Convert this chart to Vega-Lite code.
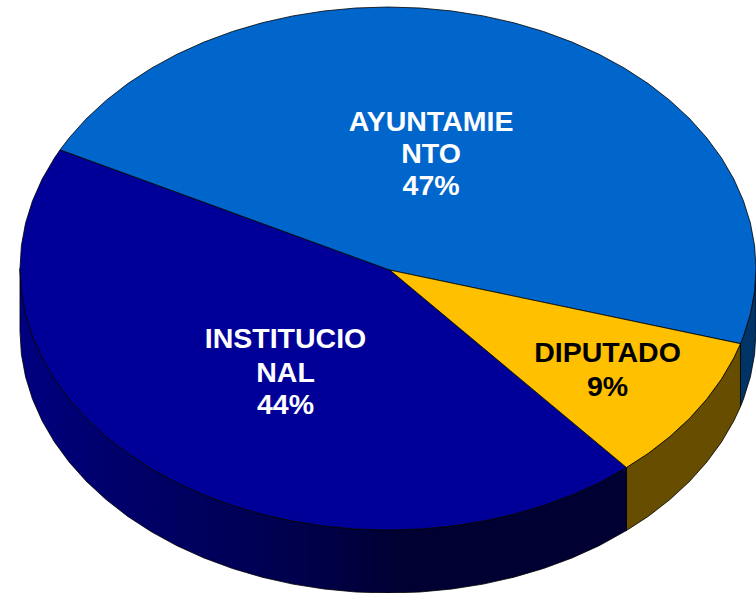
{"$schema":"https://vega.github.io/schema/vega-lite/v6.json","width":756,"height":593,"padding":0,"autosize":"none","background":"white","view":{"stroke":null},
"datasets":{
"wall":[
{"slice":"AYUNTAMIENTO","x":100,"y":0,"y2":-24.09},{"slice":"AYUNTAMIENTO","x":99.62,"y":-8.72,"y2":-32.81},{"slice":"AYUNTAMIENTO","x":98.48,"y":-17.36,"y2":-41.45},{"slice":"AYUNTAMIENTO","x":96.59,"y":-25.88,"y2":-49.97},{"slice":"AYUNTAMIENTO","x":95.78,"y":-28.74,"y2":-52.83},
{"slice":"DIPUTADO","x":95.78,"y":-28.74,"y2":-52.83},{"slice":"DIPUTADO","x":93.97,"y":-34.2,"y2":-58.29},{"slice":"DIPUTADO","x":90.63,"y":-42.26,"y2":-66.35},{"slice":"DIPUTADO","x":86.6,"y":-50,"y2":-74.09},{"slice":"DIPUTADO","x":81.92,"y":-57.36,"y2":-81.45},{"slice":"DIPUTADO","x":76.6,"y":-64.28,"y2":-88.37},{"slice":"DIPUTADO","x":70.71,"y":-70.71,"y2":-94.8},{"slice":"DIPUTADO","x":64.8,"y":-76.1,"y2":-100.19},
{"slice":"INSTITUCIONAL","x":64.8,"y":-76.1,"y2":-100.19},{"slice":"INSTITUCIONAL","x":57.36,"y":-81.92,"y2":-106.01},{"slice":"INSTITUCIONAL","x":50,"y":-86.6,"y2":-110.69},{"slice":"INSTITUCIONAL","x":42.26,"y":-90.63,"y2":-114.72},{"slice":"INSTITUCIONAL","x":34.2,"y":-93.97,"y2":-118.06},{"slice":"INSTITUCIONAL","x":25.88,"y":-96.59,"y2":-120.68},{"slice":"INSTITUCIONAL","x":17.36,"y":-98.48,"y2":-122.57},{"slice":"INSTITUCIONAL","x":8.72,"y":-99.62,"y2":-123.71},{"slice":"INSTITUCIONAL","x":0,"y":-100,"y2":-124.09},{"slice":"INSTITUCIONAL","x":-8.72,"y":-99.62,"y2":-123.71},{"slice":"INSTITUCIONAL","x":-17.36,"y":-98.48,"y2":-122.57},{"slice":"INSTITUCIONAL","x":-25.88,"y":-96.59,"y2":-120.68},{"slice":"INSTITUCIONAL","x":-34.2,"y":-93.97,"y2":-118.06},{"slice":"INSTITUCIONAL","x":-42.26,"y":-90.63,"y2":-114.72},{"slice":"INSTITUCIONAL","x":-50,"y":-86.6,"y2":-110.69},{"slice":"INSTITUCIONAL","x":-57.36,"y":-81.92,"y2":-106.01},{"slice":"INSTITUCIONAL","x":-64.28,"y":-76.6,"y2":-100.69},{"slice":"INSTITUCIONAL","x":-70.71,"y":-70.71,"y2":-94.8},{"slice":"INSTITUCIONAL","x":-76.6,"y":-64.28,"y2":-88.37},{"slice":"INSTITUCIONAL","x":-81.92,"y":-57.36,"y2":-81.45},{"slice":"INSTITUCIONAL","x":-86.6,"y":-50,"y2":-74.09},{"slice":"INSTITUCIONAL","x":-90.63,"y":-42.26,"y2":-66.35},{"slice":"INSTITUCIONAL","x":-93.97,"y":-34.2,"y2":-58.29},{"slice":"INSTITUCIONAL","x":-96.59,"y":-25.88,"y2":-49.97},{"slice":"INSTITUCIONAL","x":-98.48,"y":-17.36,"y2":-41.45},{"slice":"INSTITUCIONAL","x":-99.62,"y":-8.72,"y2":-32.81},{"slice":"INSTITUCIONAL","x":-100,"y":0,"y2":-24.09}
],
"top":[
{"slice":"INSTITUCIONAL","i":0,"x":0.5,"y":-0.6},{"slice":"INSTITUCIONAL","i":1,"x":64.8,"y":-76.1},{"slice":"INSTITUCIONAL","i":2,"x":57.36,"y":-81.92},{"slice":"INSTITUCIONAL","i":3,"x":50,"y":-86.6},{"slice":"INSTITUCIONAL","i":4,"x":42.26,"y":-90.63},{"slice":"INSTITUCIONAL","i":5,"x":34.2,"y":-93.97},{"slice":"INSTITUCIONAL","i":6,"x":25.88,"y":-96.59},{"slice":"INSTITUCIONAL","i":7,"x":17.36,"y":-98.48},{"slice":"INSTITUCIONAL","i":8,"x":8.72,"y":-99.62},{"slice":"INSTITUCIONAL","i":9,"x":0,"y":-100},{"slice":"INSTITUCIONAL","i":10,"x":-8.72,"y":-99.62},{"slice":"INSTITUCIONAL","i":11,"x":-17.36,"y":-98.48},{"slice":"INSTITUCIONAL","i":12,"x":-25.88,"y":-96.59},{"slice":"INSTITUCIONAL","i":13,"x":-34.2,"y":-93.97},{"slice":"INSTITUCIONAL","i":14,"x":-42.26,"y":-90.63},{"slice":"INSTITUCIONAL","i":15,"x":-50,"y":-86.6},{"slice":"INSTITUCIONAL","i":16,"x":-57.36,"y":-81.92},{"slice":"INSTITUCIONAL","i":17,"x":-64.28,"y":-76.6},{"slice":"INSTITUCIONAL","i":18,"x":-70.71,"y":-70.71},{"slice":"INSTITUCIONAL","i":19,"x":-76.6,"y":-64.28},{"slice":"INSTITUCIONAL","i":20,"x":-81.92,"y":-57.36},{"slice":"INSTITUCIONAL","i":21,"x":-86.6,"y":-50},{"slice":"INSTITUCIONAL","i":22,"x":-90.63,"y":-42.26},{"slice":"INSTITUCIONAL","i":23,"x":-93.97,"y":-34.2},{"slice":"INSTITUCIONAL","i":24,"x":-96.59,"y":-25.88},{"slice":"INSTITUCIONAL","i":25,"x":-98.48,"y":-17.36},{"slice":"INSTITUCIONAL","i":26,"x":-99.62,"y":-8.72},{"slice":"INSTITUCIONAL","i":27,"x":-100,"y":0},{"slice":"INSTITUCIONAL","i":28,"x":-99.62,"y":8.72},{"slice":"INSTITUCIONAL","i":29,"x":-98.48,"y":17.36},{"slice":"INSTITUCIONAL","i":30,"x":-96.59,"y":25.88},{"slice":"INSTITUCIONAL","i":31,"x":-93.97,"y":34.2},{"slice":"INSTITUCIONAL","i":32,"x":-90.63,"y":42.26},{"slice":"INSTITUCIONAL","i":33,"x":-89.1,"y":45.4},{"slice":"INSTITUCIONAL","i":34,"x":0.5,"y":-0.6},
{"slice":"AYUNTAMIENTO","i":0,"x":0.5,"y":-0.6},{"slice":"AYUNTAMIENTO","i":1,"x":-89.1,"y":45.4},{"slice":"AYUNTAMIENTO","i":2,"x":-86.6,"y":50},{"slice":"AYUNTAMIENTO","i":3,"x":-81.92,"y":57.36},{"slice":"AYUNTAMIENTO","i":4,"x":-76.6,"y":64.28},{"slice":"AYUNTAMIENTO","i":5,"x":-70.71,"y":70.71},{"slice":"AYUNTAMIENTO","i":6,"x":-64.28,"y":76.6},{"slice":"AYUNTAMIENTO","i":7,"x":-57.36,"y":81.92},{"slice":"AYUNTAMIENTO","i":8,"x":-50,"y":86.6},{"slice":"AYUNTAMIENTO","i":9,"x":-42.26,"y":90.63},{"slice":"AYUNTAMIENTO","i":10,"x":-34.2,"y":93.97},{"slice":"AYUNTAMIENTO","i":11,"x":-25.88,"y":96.59},{"slice":"AYUNTAMIENTO","i":12,"x":-17.36,"y":98.48},{"slice":"AYUNTAMIENTO","i":13,"x":-8.72,"y":99.62},{"slice":"AYUNTAMIENTO","i":14,"x":0,"y":100},{"slice":"AYUNTAMIENTO","i":15,"x":8.72,"y":99.62},{"slice":"AYUNTAMIENTO","i":16,"x":17.36,"y":98.48},{"slice":"AYUNTAMIENTO","i":17,"x":25.88,"y":96.59},{"slice":"AYUNTAMIENTO","i":18,"x":34.2,"y":93.97},{"slice":"AYUNTAMIENTO","i":19,"x":42.26,"y":90.63},{"slice":"AYUNTAMIENTO","i":20,"x":50,"y":86.6},{"slice":"AYUNTAMIENTO","i":21,"x":57.36,"y":81.92},{"slice":"AYUNTAMIENTO","i":22,"x":64.28,"y":76.6},{"slice":"AYUNTAMIENTO","i":23,"x":70.71,"y":70.71},{"slice":"AYUNTAMIENTO","i":24,"x":76.6,"y":64.28},{"slice":"AYUNTAMIENTO","i":25,"x":81.92,"y":57.36},{"slice":"AYUNTAMIENTO","i":26,"x":86.6,"y":50},{"slice":"AYUNTAMIENTO","i":27,"x":90.63,"y":42.26},{"slice":"AYUNTAMIENTO","i":28,"x":93.97,"y":34.2},{"slice":"AYUNTAMIENTO","i":29,"x":96.59,"y":25.88},{"slice":"AYUNTAMIENTO","i":30,"x":98.48,"y":17.36},{"slice":"AYUNTAMIENTO","i":31,"x":99.62,"y":8.72},{"slice":"AYUNTAMIENTO","i":32,"x":100,"y":0},{"slice":"AYUNTAMIENTO","i":33,"x":99.62,"y":-8.72},{"slice":"AYUNTAMIENTO","i":34,"x":98.48,"y":-17.36},{"slice":"AYUNTAMIENTO","i":35,"x":96.59,"y":-25.88},{"slice":"AYUNTAMIENTO","i":36,"x":95.78,"y":-28.74},{"slice":"AYUNTAMIENTO","i":37,"x":0.5,"y":-0.6},
{"slice":"DIPUTADO","i":0,"x":0.5,"y":-0.6},{"slice":"DIPUTADO","i":1,"x":95.78,"y":-28.74},{"slice":"DIPUTADO","i":2,"x":93.97,"y":-34.2},{"slice":"DIPUTADO","i":3,"x":90.63,"y":-42.26},{"slice":"DIPUTADO","i":4,"x":86.6,"y":-50},{"slice":"DIPUTADO","i":5,"x":81.92,"y":-57.36},{"slice":"DIPUTADO","i":6,"x":76.6,"y":-64.28},{"slice":"DIPUTADO","i":7,"x":70.71,"y":-70.71},{"slice":"DIPUTADO","i":8,"x":64.8,"y":-76.1},{"slice":"DIPUTADO","i":9,"x":0.5,"y":-0.6}
],
"labels":[
{"slice":"AYUNTAMIENTO","text":"AYUNTAMIE","x":11.7,"y":56.0},{"slice":"AYUNTAMIENTO","text":"NTO","x":11.7,"y":43.6},{"slice":"AYUNTAMIENTO","text":"47%","x":11.7,"y":31.4},
{"slice":"INSTITUCIONAL","text":"INSTITUCIO","x":-27.85,"y":-26.8},{"slice":"INSTITUCIONAL","text":"NAL","x":-27.85,"y":-39.8},{"slice":"INSTITUCIONAL","text":"44%","x":-27.85,"y":-52.2},
{"slice":"DIPUTADO","text":"DIPUTADO","x":59.65,"y":-32.3},{"slice":"DIPUTADO","text":"9%","x":59.65,"y":-45.3}
]},
"encoding":{
"x":{"field":"x","type":"quantitative","scale":{"domain":[-105.43,100],"nice":false,"zero":false},"axis":null},
"y":{"field":"y","type":"quantitative","scale":{"domain":[-124.09,102.68],"nice":false,"zero":false},"axis":null}
},
"layer":[
{"data":{"name":"wall"},"transform":[{"filter":"datum.slice==='AYUNTAMIENTO'"}],"mark":{"type":"area","fill":"#003366","stroke":"#000000","strokeWidth":0.8},"encoding":{"y2":{"field":"y2"}}},
{"data":{"name":"wall"},"transform":[{"filter":"datum.slice==='DIPUTADO'"}],"mark":{"type":"area","fill":"#664D00","stroke":"#000000","strokeWidth":0.8},"encoding":{"y2":{"field":"y2"}}},
{"data":{"name":"wall"},"transform":[{"filter":"datum.slice==='INSTITUCIONAL'"}],"mark":{"type":"area","stroke":"#000000","strokeWidth":0.8,"fill":{"gradient":"linear","x1":0,"y1":0,"x2":1,"y2":0,"stops":[{"offset":0,"color":"#000080"},{"offset":0.13,"color":"#00006e"},{"offset":0.46,"color":"#00004d"},{"offset":0.62,"color":"#000033"},{"offset":1,"color":"#000033"}]}},"encoding":{"y2":{"field":"y2"}}},
{"data":{"name":"top"},"mark":{"type":"line","stroke":"#000000","strokeWidth":0.8,"strokeJoin":"round"},"encoding":{"order":{"field":"i","type":"quantitative"},"fill":{"field":"slice","type":"nominal","scale":{"domain":["AYUNTAMIENTO","DIPUTADO","INSTITUCIONAL"],"range":["#0066CC","#FFC000","#000099"]},"legend":null}}},
{"data":{"name":"labels"},"mark":{"type":"text","font":"Liberation Sans","fontWeight":"bold","fontSize":28.5,"align":"center","baseline":"middle"},"encoding":{"text":{"field":"text"},"color":{"field":"slice","type":"nominal","scale":{"domain":["AYUNTAMIENTO","DIPUTADO","INSTITUCIONAL"],"range":["#FFFFFF","#000000","#FFFFFF"]},"legend":null}}}
]}
